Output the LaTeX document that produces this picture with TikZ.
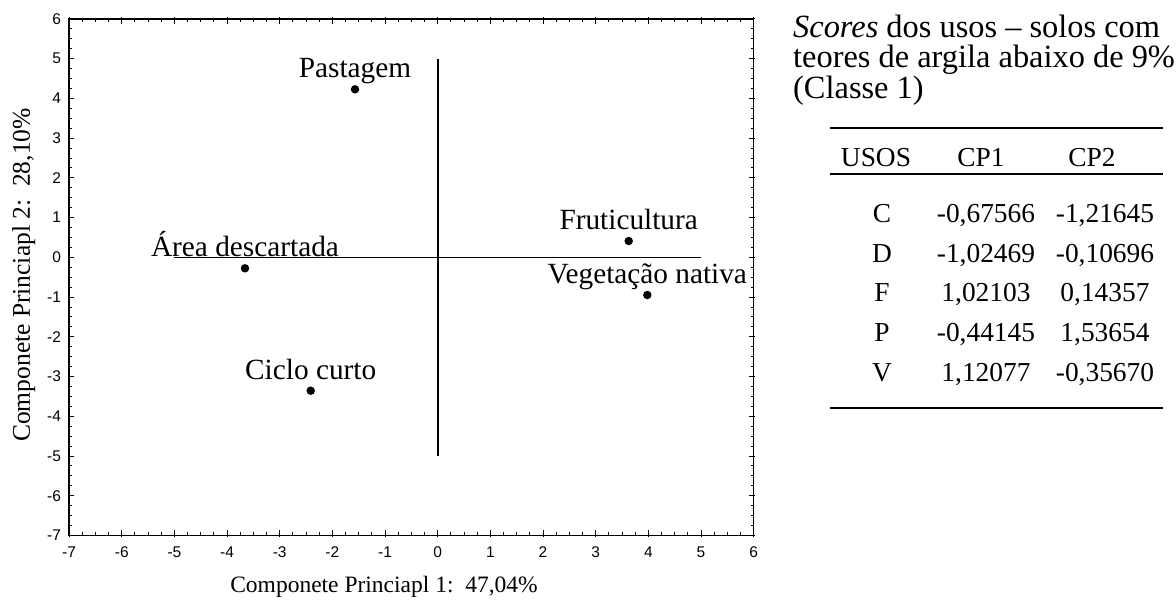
\documentclass[tikz,border=0pt]{standalone}
\usepackage{fontspec}
\setmainfont{Liberation Serif}
\newfontfamily\tickfont{Liberation Sans}
\begin{document}
\begin{tikzpicture}[x=1pt,y=-1pt,
  dot/.style={circle,fill=black,inner sep=0pt,minimum size=8.5pt},
  lbl/.style={anchor=base,inner sep=0pt,font=\fontsize{29.3}{34}\selectfont},
  ticklbl/.style={inner sep=0pt,font=\tickfont\fontsize{15.5}{18}\selectfont},
  axtitle/.style={anchor=base,inner sep=0pt},
  titletext/.style={anchor=base west,inner sep=0pt,font=\fontsize{32.4}{36}\selectfont},
  cell/.style={anchor=base,inner sep=0pt,font=\fontsize{27.4}{32}\selectfont},
  rulel/.style={line width=1.5pt},
  frame/.style={line width=1.1pt},
  tickline/.style={line width=0.9pt}]
\useasboundingbox (0,0) rectangle (1176,600);

% plot frame
\draw[frame] (69,19) rectangle (753.3,535.7);

\begin{scope}[shift={(437.7,257.3)},x=52.66pt,y=39.74pt]
  % minor ticks
  \foreach \t in {-7,-6.75,...,6}{
    \draw[tickline] (\t,-7) -- ++(0pt,3pt);
    \draw[tickline] (\t,6) -- ++(0pt,-3pt);
    \draw[tickline] (-7,\t) -- ++(3pt,0pt);
    \draw[tickline] (6,\t) -- ++(-3pt,0pt);
  }
  % major ticks and tick labels
  \foreach \t in {-7,...,6}{
    \draw[tickline] (\t,-7) ++(0pt,-1.5pt) -- ++(0pt,6.5pt);
    \draw[tickline] (\t,6) ++(0pt,1.5pt) -- ++(0pt,-6.5pt);
    \draw[tickline] (-7,\t) ++(-1.5pt,0pt) -- ++(6.5pt,0pt);
    \draw[tickline] (6,\t) ++(1.5pt,0pt) -- ++(-6.5pt,0pt);
    \node[ticklbl,anchor=north] (xl\t) at ([yshift=-11pt]\t,-7) {\t};
    \node[ticklbl,anchor=east] (yl\t) at ([xshift=-8pt]-7,\t) {\t};
  }
  % centre axes
  \coordinate (hl) at (-5,0);
  \coordinate (hr) at (5,0);
  \coordinate (vt) at (0,5);
  \coordinate (vb) at (0,-5);
  \draw[line width=1pt] (hl) -- (hr);
  \draw[line width=1.6pt] (vt) -- (vb);
\end{scope}

% points
\node[dot] (pas) at (355,89.3) {};
\node[dot] (are) at (245,268.3) {};
\node[dot] (cic) at (310.7,390.7) {};
\node[dot] (fru) at (628.7,241) {};
\node[dot] (veg) at (647.3,295) {};
\path (pas) ++(0,-11.5) node[lbl] (lpas) {Pastagem};
\path (are) ++(0,-11.5) node[lbl] (lare) {Área descartada};
\path (cic) ++(0,-11.5) node[lbl] (lcic) {Ciclo curto};
\path (fru) ++(0,-11.5) node[lbl] (lfru) {Fruticultura};
\path (veg) ++(0,-11.5) node[lbl] (lveg) {Vegetação nativa};

% axis titles
\node[axtitle,font=\fontsize{23.5}{28}\selectfont] (xt) at (384,592) {Componete Princiapl 1:\ \ 47,04\%};
\node[axtitle,rotate=90,font=\fontsize{25.5}{30}\selectfont] (yt) at (30,275) {Componete Princiapl 2:\ \ 28,10\%};

% table title
\node[titletext] (t1) at (793,37) {\textit{Scores} dos usos – solos com};
\node[titletext] (t2) at (793,67.5) {teores de argila abaixo de 9\%};
\node[titletext] (t3) at (793,98) {(Classe 1)};

% table rules
\coordinate (r1a) at (830,128);   \coordinate (r1b) at (1162.7,128);
\coordinate (r2a) at (830,174);   \coordinate (r2b) at (1162.7,174);
\coordinate (r3a) at (830,408);   \coordinate (r3b) at (1162.7,408);
\draw[rulel] (r1a) -- (r1b);
\draw[rulel] (r2a) -- (r2b);
\draw[rulel] (r3a) -- (r3b);

% header
\node[cell] (h1) at (876,166.7) {USOS};
\node[cell] (h2) at (981,166.7) {CP1};
\node[cell] (h3) at (1092,166.7) {CP2};

% rows
\foreach \n/\a/\b/\y in {C/{-0,67566}/{-1,21645}/222, D/{-1,02469}/{-0,10696}/262, F/{1,02103}/{0,14357}/301.5, P/{-0,44145}/{1,53654}/341.5, V/{1,12077}/{-0,35670}/381}{
  \node[cell] (u\n) at (882,\y) {\n};
  \node[cell] (a\n) at (986,\y) {\a};
  \node[cell] (b\n) at (1105,\y) {\b};
}
\end{tikzpicture}
\end{document}
